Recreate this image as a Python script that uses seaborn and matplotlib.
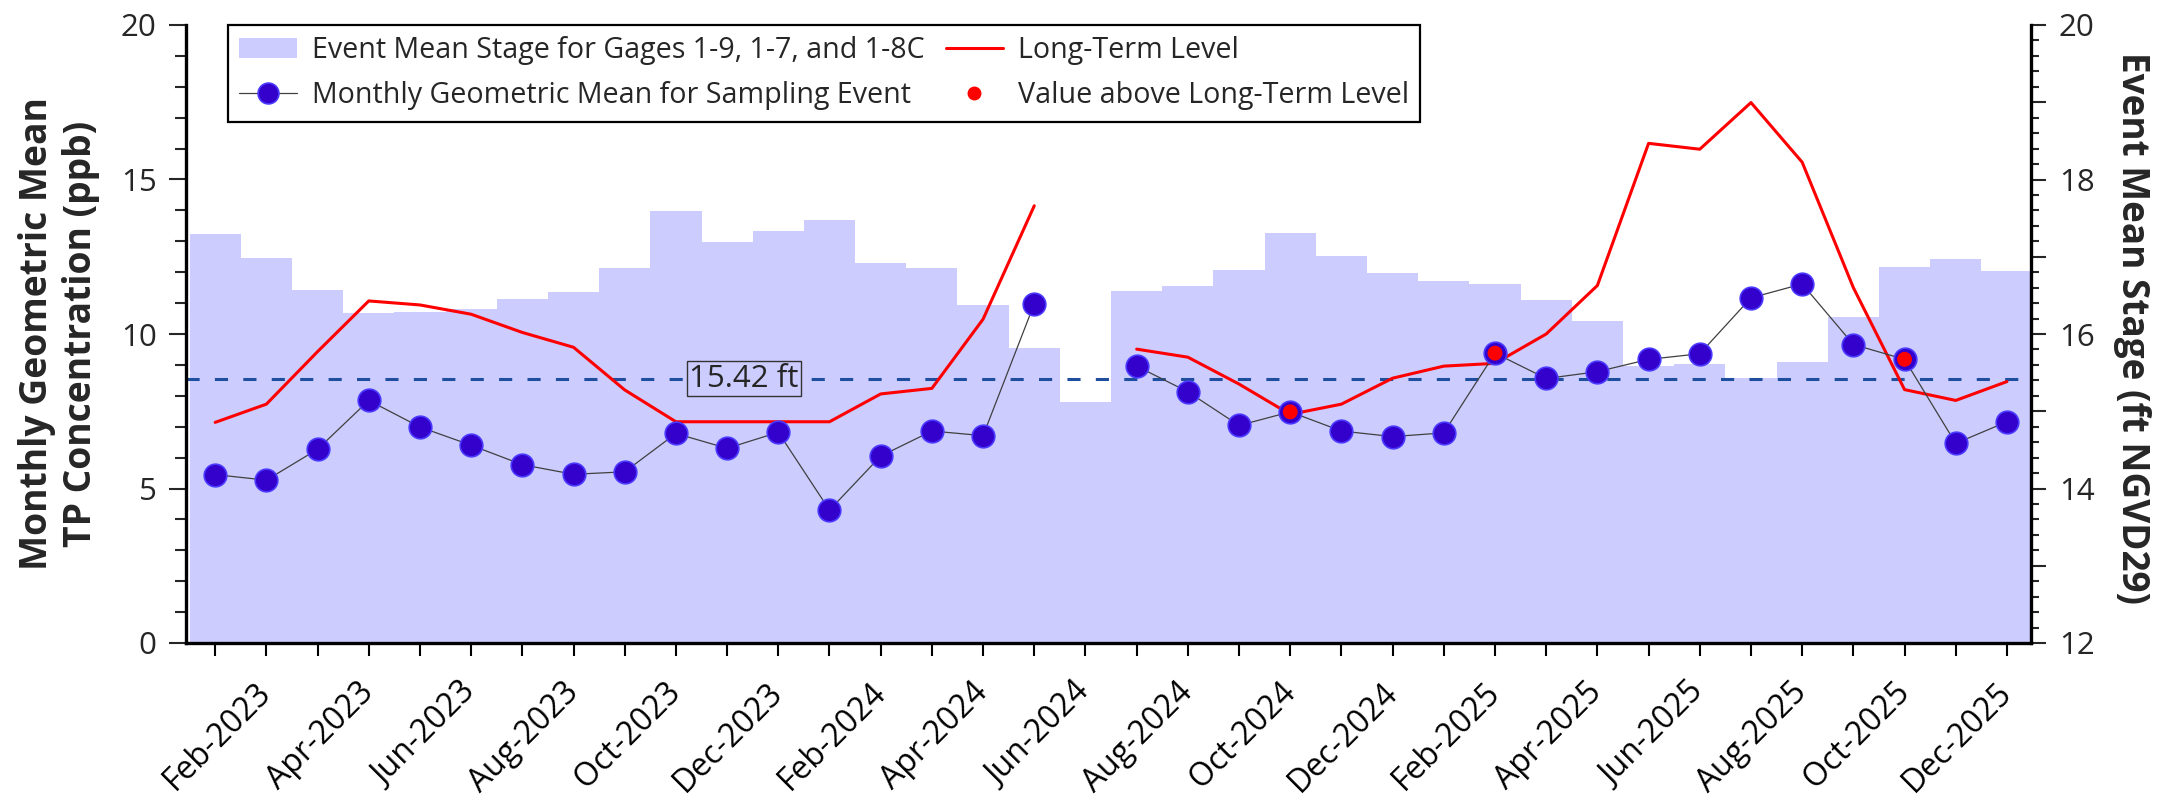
import numpy as np
import pandas as pd
import matplotlib
matplotlib.use("Agg")
import matplotlib.pyplot as plt
import seaborn as sns
from matplotlib.lines import Line2D
from matplotlib.patches import Patch
from matplotlib.ticker import MultipleLocator

# ---------------- data ----------------
months = pd.date_range("2023-01-01", periods=36, freq="MS")
month_labels = [d.strftime("%b-%Y") for d in months]

# Monthly geometric mean TP concentration (ppb); Jun-2024 missing
geomean = [5.45, 5.27, 6.27, 7.85, 6.99, 6.40, 5.77, 5.46, 5.54, 6.78, 6.30, 6.82,
           4.30, 6.05, 6.86, 6.71, 10.98, np.nan, 8.96, 8.13, 7.04, 7.48, 6.86, 6.68,
           6.80, 9.38, 8.56, 8.78, 9.18, 9.36, 11.17, 11.62, 9.66, 9.18, 6.46, 7.16]

# Long-term level (ppb); Jun-2024 missing
longterm = [7.14, 7.73, 9.43, 11.07, 10.94, 10.64, 10.05, 9.57, 8.19, 7.16, 7.16, 7.16,
            7.16, 8.06, 8.24, 10.48, 14.15, np.nan, 9.51, 9.25, 8.38, 7.40, 7.73, 8.57,
            8.96, 9.05, 10.00, 11.57, 16.17, 15.98, 17.49, 15.56, 11.50, 8.20, 7.85, 8.46]

# Event mean stage (ft NGVD29)
stage = [17.29, 16.99, 16.57, 16.27, 16.28, 16.33, 16.45, 16.54, 16.86, 17.59, 17.19, 17.33,
         17.48, 16.92, 16.86, 16.37, 15.82, 15.12, 16.56, 16.62, 16.83, 17.31, 17.01, 16.79,
         16.69, 16.65, 16.44, 16.17, 15.58, 15.61, 15.43, 15.64, 16.22, 16.87, 16.97, 16.81]

# line segments (gap at Jun-2024)
segment = [0] * 17 + [1] * 19

stage_ref = 15.42
stage_ref_label = "15.42 ft"

legend_labels = ["Event Mean Stage for Gages 1-9, 1-7, and 1-8C",
                 "Monthly Geometric Mean for Sampling Event",
                 "Long-Term Level",
                 "Value above Long-Term Level"]
left_label = "Monthly Geometric Mean\nTP Concentration (ppb)"
right_label = "Event Mean Stage (ft NGVD29)"

# ---------------- style ----------------
sns.set_style("ticks")
plt.rcParams["font.family"] = ["Open Sans", "DejaVu Sans"]

BAR_C = "#CCCCFF"
PT_C = "#3300CC"
PT_EC = "#4A3AFF"
RED = "#FF0000"
DASH_C = "#1F4E9F"

x = np.arange(len(months))
df = pd.DataFrame({"x": x, "geomean": geomean, "longterm": longterm,
                   "stage": stage, "seg": segment})
df["above"] = df["geomean"] > df["longterm"]

W, H = 2162, 798
fig = plt.figure(figsize=(W / 100, H / 100), dpi=100)
L, R, T, B = 186, 2031, 25, 643
AW = R - L
ax = fig.add_axes([L / W, 1 - B / H, (R - L) / W, (B - T) / H])
ax2 = ax.twinx()
ax.set_zorder(ax2.get_zorder() + 1)
ax.patch.set_visible(False)
renderer = fig.canvas.get_renderer()


def fitted_size(text, target_px, weight="normal", base=20.0):
    t = fig.text(0, 0, text, fontsize=base, fontweight=weight)
    bb = t.get_window_extent(renderer)
    t.remove()
    return base * target_px / bb.width


# stage bars (right axis)
sns.barplot(data=df, x="x", y="stage", native_scale=True, width=1.0, color=BAR_C,
            saturation=1, errorbar=None, linewidth=0, edgecolor="none", ax=ax2)
ax2.axhline(stage_ref, color=DASH_C, lw=2.2, dashes=(4.3, 5.0), zorder=3)
ax2.text(10.33, stage_ref, stage_ref_label, fontsize=22.5, ha="center", va="center",
         zorder=4, bbox=dict(boxstyle="square,pad=0.08", fc=BAR_C, ec="#333333", lw=1.0))

# long-term level
sns.lineplot(data=df, x="x", y="longterm", units="seg", estimator=None, color=RED,
             lw=2.2, ax=ax, legend=False, zorder=3)
# geometric mean connector + markers
sns.lineplot(data=df, x="x", y="geomean", units="seg", estimator=None, color="#404040",
             lw=0.9, ax=ax, legend=False, zorder=4)
sns.scatterplot(data=df, x="x", y="geomean", s=265, color=PT_C, edgecolor=PT_EC,
                linewidth=1.2, ax=ax, legend=False, zorder=5)
sns.scatterplot(data=df[df["above"]], x="x", y="geomean", s=115, color=RED,
                edgecolor="none", linewidth=0, ax=ax, legend=False, zorder=6)

# ---------------- axes ----------------
ax.set_xlim(-0.57, 35.47)
ax.set_ylim(0, 20)

ax.set_xticks(x)
ax.set_xticklabels([lab if i % 2 == 1 else "" for i, lab in enumerate(month_labels)],
                   rotation=45, ha="right", va="center", rotation_mode="anchor")
ax.set_xlabel("")
ax2.set_xlabel("")

ax.set_yticks([0, 5, 10, 15, 20])
ax.yaxis.set_minor_locator(MultipleLocator(1))
ax2.set_yticks(np.arange(12, 21, 1))
ax2.set_yticklabels([f"{v:g}" if v % 2 == 0 else "" for v in np.arange(12, 21, 1)])
ax2.yaxis.set_minor_locator(MultipleLocator(0.2))
ax2.set_ylim(12, 20)

for s in ["top", "right"]:
    ax.spines[s].set_visible(False)
for s in ["top", "left", "bottom"]:
    ax2.spines[s].set_visible(False)
for a in (ax, ax2):
    for s in a.spines.values():
        s.set_linewidth(2.4)
        s.set_color("black")

ax.tick_params(axis="x", which="major", length=9.5, width=1.5, pad=22.5, labelsize=23,
               colors="black")
ax.tick_params(axis="y", which="major", length=12, width=1.5, pad=9, labelsize=22.5)
ax.tick_params(axis="y", which="minor", length=8, width=1.5)
ax2.tick_params(axis="y", which="major", length=11, width=1.5, pad=9, labelsize=22.5)
ax2.tick_params(axis="y", which="minor", length=6, width=1.5)

# axis labels, sized to the reference lengths
ls = fitted_size("Monthly Geometric Mean", 474, weight="bold")
ax.set_ylabel(left_label, fontsize=ls, fontweight="bold", linespacing=1.2)
ax.yaxis.set_label_coords(-0.045, 0.5)
rs = fitted_size(right_label, 552, weight="bold")
ax2.set_ylabel(right_label, fontsize=rs, fontweight="bold", rotation=270,
               va="bottom", ha="center")
ax2.yaxis.set_label_coords(1.044, 0.51)

# shift labels so their centres sit where the reference has them
for a, target_cx, ypos in ((ax, 59.0, 0.5), (ax2, 2132.0, 0.51)):
    lab = a.yaxis.label
    bb = lab.get_window_extent(renderer)
    cx = 0.5 * (bb.x0 + bb.x1)
    cur = ax.transAxes.inverted().transform(lab.get_transform().transform(lab.get_position()))
    a.yaxis.set_label_coords(cur[0] + (target_cx - cx) / AW, ypos)

# ---------------- legend ----------------
fs = fitted_size(legend_labels[0], 611)
handles = [
    Patch(facecolor=BAR_C, edgecolor="none"),
    Line2D([0], [0], color="#404040", lw=0.9, marker="o", ms=15,
           mfc=PT_C, mec=PT_EC, mew=1.2),
    Line2D([0], [0], color=RED, lw=2.2),
    Line2D([0], [0], ls="none", marker="o", ms=9, mfc=RED, mec=RED),
]
leg = ax.legend(handles, legend_labels, ncol=2, loc="upper left",
                bbox_to_anchor=((228 - L) / AW, 1.0), borderaxespad=0,
                fontsize=fs, frameon=True, fancybox=False, framealpha=1,
                edgecolor="black", handlelength=2.0, handletextpad=0.52,
                columnspacing=0.75, borderpad=0.4, labelspacing=0.55)
leg.get_frame().set_linewidth(1.6)

fig.savefig("out.png", dpi=100)
